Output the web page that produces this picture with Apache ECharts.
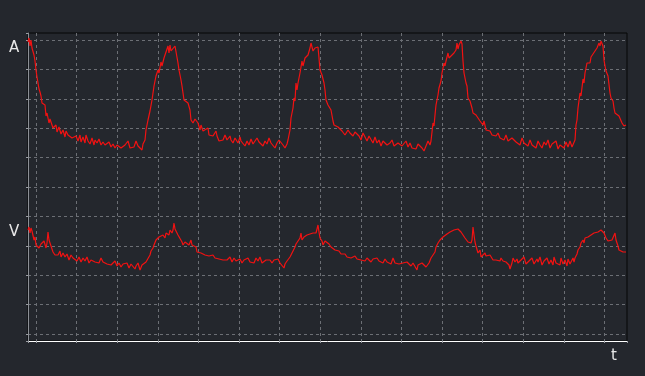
<!DOCTYPE html>
<html>
<head>
<meta charset="utf-8">
<script src="https://cdn.jsdelivr.net/npm/echarts@6/dist/echarts.min.js"></script>
<style>
html,body{margin:0;padding:0;background:#24272d;}
#chart{width:645px;height:376px;}
</style>
</head>
<body>
<div id="chart"></div>
<script>
// Time axis (samples) and level axis (arbitrary units)
const timeRange = [0, 599];
const levelRange = [0, 308];
// Grid divisions (15 columns x 11 rows of dashed lines, offset from the frame)
const gridColsRange = [-0.197, 14.557];
const gridRowsRange = [-0.238, 10.238];
const axisLabels = ['A', 'V', 't'];

// Upper trace "A": [time, level]
const currentTrace = [
[0,299],[1,303],[2,295],[3,301],[4,293],[6,286],[7,280],[8,271],[9,264],[10,258],[11,252],[12,249],[13,245],[14,238],[15,240],[16,236],[17,236],[18,225],[19,228],[20,226],[21,218],[22,222],[24,220],[25,213],[26,211],[28,216],[29,209],[30,208],[31,214],[33,207],[35,211],[37,204],[38,210],[40,206],[42,208],[44,203],[46,201],[48,205],[50,200],[52,206],[53,199],[55,204],[57,198],[58,206],[60,200],[62,197],[64,203],[66,196],[67,201],[69,198],[71,202],[73,196],[75,199],[77,196],[79,195],[81,199],[83,194],[85,197],[87,193],[89,196],[91,195],[93,193],[95,193],[97,196],[99,194],[100,200],[102,193],[104,194],[106,194],[108,200],[110,195],[112,193],[114,191],[115,197],[117,201],[118,211],[120,221],[122,230],[124,241],[126,255],[128,265],[130,271],[131,268],[133,279],[134,275],[136,283],[138,285],[140,295],[141,288],[142,296],[143,290],[145,292],[147,295],[148,297],[149,293],[150,278],[151,271],[153,261],[154,255],[155,253],[156,241],[157,240],[160,238],[162,231],[163,221],[165,218],[167,222],[168,220],[170,218],[172,211],[173,216],[175,210],[177,208],[180,213],[181,206],[183,206],[185,205],[188,210],[189,205],[191,200],[193,202],[195,201],[197,206],[199,201],
[200,200],[202,205],[203,201],[205,198],[207,203],[209,201],[210,198],[212,204],[213,200],[215,201],[217,195],[219,200],[221,196],[223,202],[225,197],[227,198],[229,203],[231,199],[233,201],[235,195],[237,200],[239,197],[241,203],[243,198],[245,196],[247,193],[249,198],[251,201],[253,203],[255,196],[257,193],[259,197],[260,201],[262,211],[263,223],[265,233],[266,243],[267,240],[268,258],[269,251],[270,258],[272,268],[274,280],[275,275],[277,283],[280,286],[282,293],[283,298],[285,290],[287,293],[289,295],[290,294],[291,283],[292,271],[294,266],[296,258],[297,251],[298,241],[300,236],[302,238],[303,231],[305,220],[306,216],[308,218],[310,214],[312,216],[314,210],[317,206],[320,211],[322,208],[325,205],[327,209],[329,207],[331,205],[333,201],[335,208],[337,206],[339,200],[341,205],[343,203],[345,198],[347,204],[349,198],[351,201],[353,195],[355,200],[357,198],[359,196],[362,198],[364,201],[366,195],[368,193],[370,198],[372,200],[374,195],[376,193],[378,200],[380,194],[382,198],[384,193],[386,195],[388,192],[390,197],[392,199],[394,193],[396,190],[398,195],[400,200],
[402,196],[403,200],[405,218],[406,215],[407,226],[408,236],[410,246],[411,253],[413,260],[414,268],[416,278],[417,275],[418,280],[420,288],[421,283],[423,285],[426,288],[428,291],[429,298],[430,292],[431,296],[433,300],[434,297],[435,280],[436,268],[438,258],[439,255],[440,243],[442,240],[444,233],[445,228],[447,228],[448,226],[450,223],[452,220],[454,218],[455,216],[456,220],[458,211],[460,213],[462,210],[464,206],[466,208],[468,205],[470,208],[472,203],[474,205],[476,201],[478,206],[480,200],[482,198],[484,203],[486,205],[488,199],[490,200],[492,196],[494,203],[496,198],[498,200],[500,195],[502,201],[504,196],[506,196],[508,193],[510,200],[512,196],[514,193],[516,199],[518,196],[520,201],[522,193],[524,197],[526,195],[528,200],[530,192],[532,196],[534,198],[536,193],[538,199],[540,194],[542,200],[544,194],[546,193],[547,201],[548,216],[549,221],[550,233],[552,248],[553,245],[555,262],[556,258],[557,268],[559,278],[560,276],[562,278],[563,284],[565,286],[567,290],[569,293],[571,298],[572,295],[573,300],[574,298],[575,295],[576,281],[577,275],[578,270],[580,265],[582,248],[583,243],[585,240],[586,233],[587,228],[588,226],[591,225],[593,223],[594,218],[596,215],[598,216]
];

// Lower trace "V": [time, level]
const voltageTrace = [
[0,111],[1,114],[2,108],[3,113],[4,110],[5,109],[6,101],[7,104],[8,96],[10,98],[11,93],[13,97],[15,96],[16,100],[18,93],[19,98],[20,109],[21,101],[22,98],[24,92],[25,89],[27,86],[29,88],[30,86],[32,90],[33,84],[35,88],[37,84],[39,87],[41,81],[43,86],[45,83],[47,85],[49,80],[51,84],[53,79],[55,83],[57,80],[59,84],[61,78],[63,81],[65,83],[67,79],[69,81],[71,78],[73,83],[75,79],[77,80],[79,77],[81,79],[83,76],[85,78],[87,80],[89,75],[91,78],[93,74],[95,77],[97,76],[99,78],[101,73],[103,77],[105,76],[107,72],[108,75],[110,78],[112,71],[114,76],[116,74],[118,79],[120,81],[122,86],[123,90],[125,93],[126,96],[128,101],[129,99],[131,104],[133,103],[135,106],[137,103],[138,108],[140,109],[141,106],[142,111],[144,108],[145,111],[146,118],[147,112],[148,111],[150,106],[152,104],[154,99],[155,96],[157,99],[159,98],[161,96],[163,101],[164,96],[166,98],[168,94],[169,89],[171,90],[173,88],[175,89],[177,86],[179,87],[181,85],[183,84],[185,86],[187,83],[189,85],[191,82],[193,84],[195,81],[197,83],[199,81],
[200,81],[202,84],[204,79],[206,83],[208,80],[210,79],[212,82],[214,78],[216,81],[218,80],[220,83],[222,79],[224,81],[226,78],[228,83],[230,80],[232,84],[234,78],[236,80],[238,81],[240,79],[242,81],[244,78],[246,81],[248,80],[250,82],[252,78],[254,76],[256,73],[257,77],[259,80],[260,81],[262,84],[263,86],[265,90],[267,94],[268,97],[270,99],[272,103],[273,108],[274,101],[276,104],[277,102],[279,106],[280,108],[282,107],[283,109],[285,108],[287,110],[288,108],[290,116],[291,109],[292,103],[294,100],[295,96],[297,100],[299,99],[301,97],[303,94],[305,95],[307,91],[309,89],[311,90],[313,87],[315,86],[317,87],[319,84],[321,86],[323,83],[325,83],[327,85],[329,82],[331,84],[333,81],[335,83],[337,80],[339,83],[341,81],[343,79],[345,82],[347,80],[349,83],[351,80],[353,82],[355,78],[357,82],[359,79],[361,80],[363,77],[365,83],[367,78],[369,80],[371,77],[373,79],[375,78],[377,76],[379,79],[381,77],[383,75],[385,78],[387,76],[389,71],[390,76],[392,77],[394,78],[396,77],[398,74],[400,76],
[401,78],[403,83],[405,86],[407,89],[408,94],[410,98],[412,101],[413,103],[415,104],[417,106],[419,107],[420,106],[422,109],[424,110],[426,111],[428,113],[430,112],[431,114],[432,112],[433,109],[435,106],[437,103],[438,101],[440,99],[442,98],[443,98],[444,101],[445,114],[446,106],[447,99],[448,95],[450,88],[451,86],[452,91],[453,84],[455,86],[457,88],[458,85],[460,83],[462,86],[463,84],[465,81],[467,83],[468,81],[470,83],[472,80],[473,83],[475,80],[478,79],[480,81],[481,76],[482,72],[484,78],[485,83],[487,79],[489,82],[490,78],[493,81],[495,79],[496,84],[498,77],[501,80],[503,78],[504,83],[506,77],[509,82],[510,79],[512,84],[514,76],[516,80],[518,78],[519,83],[521,77],[523,81],[525,76],[526,84],[528,78],[530,80],[532,76],[533,83],[535,77],[537,81],[539,75],[540,82],[542,77],[544,79],[545,83],[546,79],[547,83],[549,87],[550,91],[552,94],[553,98],[555,101],[556,98],[557,103],[559,101],[560,104],[562,103],[563,106],[565,104],[566,108],[568,106],[570,109],[572,108],[573,111],[575,109],[576,108],[578,103],[580,100],[582,99],[584,101],[585,99],[587,108],[588,101],[590,95],[591,91],[593,90],[595,89],[598,89]
];

const chart = echarts.init(document.getElementById('chart'), null, {renderer: 'canvas'});
const dashed = {show: true, lineStyle: {color: '#6c6f75', width: 1, type: [3, 3]}, showMinLine: false, showMaxLine: false};
const traceStyle = {color: '#f21212', width: 1.2};

chart.setOption({
  backgroundColor: '#24272d',
  animation: false,
  grid: {
    left: 28, right: 18, top: 33, bottom: 35,
    show: true, borderColor: '#050607', borderWidth: 1, backgroundColor: 'transparent',
    outerBoundsMode: 'none', containLabel: false
  },
  xAxis: [
    {type: 'value', min: timeRange[0], max: timeRange[1], position: 'bottom',
     axisLine: {show: true, onZero: false, lineStyle: {color: '#ffffff', width: 1}},
     axisTick: {show: false}, axisLabel: {show: false}, splitLine: {show: false}},
    {type: 'value', min: gridColsRange[0], max: gridColsRange[1], minInterval: 1, maxInterval: 1, position: 'bottom',
     axisLine: {show: false}, axisTick: {show: true, length: 2, lineStyle: {color: '#9a9da3'}},
     axisLabel: {show: false}, splitLine: dashed}
  ],
  yAxis: [
    {type: 'value', min: levelRange[0], max: levelRange[1], position: 'left',
     axisLine: {show: true, onZero: false, lineStyle: {color: '#8d9096', width: 1}},
     axisTick: {show: false}, axisLabel: {show: false}, splitLine: {show: false}},
    {type: 'value', min: gridRowsRange[0], max: gridRowsRange[1], minInterval: 1, maxInterval: 1, position: 'left',
     axisLine: {show: false}, axisTick: {show: true, length: 2, lineStyle: {color: '#9a9da3'}},
     axisLabel: {show: false}, splitLine: dashed}
  ],
  series: [
    {name: axisLabels[0], type: 'line', data: currentTrace, showSymbol: false, symbol: 'none',
     xAxisIndex: 0, yAxisIndex: 0, lineStyle: traceStyle, z: 5, sampling: null},
    {name: axisLabels[1], type: 'line', data: voltageTrace, showSymbol: false, symbol: 'none',
     xAxisIndex: 0, yAxisIndex: 0, lineStyle: traceStyle, z: 5, sampling: null}
  ],
  graphic: [
    {type: 'text', left: 9, top: 41, style: {text: axisLabels[0], fill: '#e8e8e8', font: '15px "DejaVu Sans"'}},
    {type: 'text', left: 9, top: 225, style: {text: axisLabels[1], fill: '#e8e8e8', font: '15px "DejaVu Sans"'}},
    {type: 'text', left: 611, top: 349, style: {text: axisLabels[2], fill: '#e8e8e8', font: '15px "DejaVu Sans"'}}
  ]
});
</script>
</body>
</html>
